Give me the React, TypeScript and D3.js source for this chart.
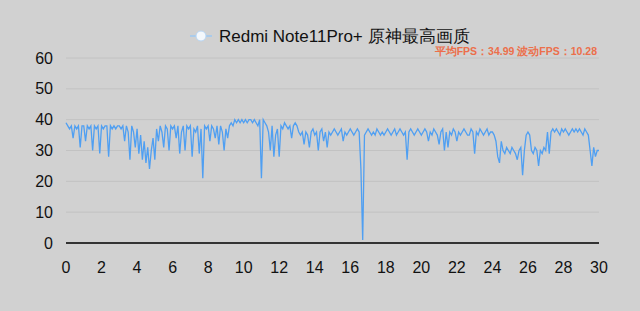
import React from "react";
import * as d3 from "d3";

const title = "Redmi Note11Pro+ 原神最高画质";
const statsText = "平均FPS：34.99 波动FPS：10.28";
const xTicks = [0, 2, 4, 6, 8, 10, 12, 14, 16, 18, 20, 22, 24, 26, 28, 30];
const yTicks = [0, 10, 20, 30, 40, 50, 60];
const step = 0.1; // minutes between samples
const fps = [
  39, 38, 37, 38, 34, 38, 37, 38, 31, 38,
  38, 33, 38, 37, 38, 30, 38, 37, 38, 29,
  38, 37, 38, 38, 28, 38, 37, 38, 37, 38,
  38, 37, 38, 33, 38, 36, 27, 38, 36, 31,
  37, 29, 35, 27, 33, 26, 31, 24, 30, 34,
  27, 37, 33, 38, 36, 31, 38, 37, 30, 38,
  37, 38, 34, 38, 29, 36, 38, 30, 38, 37,
  38, 28, 37, 36, 38, 29, 37, 21, 38, 37,
  38, 33, 38, 37, 34, 38, 32, 38, 36, 30,
  37, 34, 38, 39, 38, 40, 39, 40, 39, 40,
  39, 40, 39, 40, 40, 39, 40, 39, 38, 40,
  21, 40, 39, 38, 36, 30, 38, 28, 35, 37,
  28, 38, 37, 39, 38, 37, 38, 34, 38, 39,
  38, 36, 35, 36, 32, 36, 35, 31, 36, 37,
  35, 36, 30, 36, 37, 33, 36, 31, 36, 35,
  36, 37, 36, 35, 36, 37, 33, 36, 35, 36,
  37, 36, 35, 36, 37, 36, 24, 1, 35, 36,
  37, 36, 35, 36, 35, 37, 36, 35, 36, 35,
  36, 37, 36, 35, 36, 37, 35, 36, 37, 36,
  35, 36, 27, 36, 37, 36, 35, 36, 37, 36,
  35, 36, 37, 36, 33, 36, 35, 37, 36, 35,
  32, 36, 37, 30, 36, 31, 36, 35, 37, 36,
  33, 36, 35, 36, 37, 36, 35, 35, 37, 36,
  29, 36, 35, 37, 36, 35, 36, 37, 35, 36,
  36, 35, 33, 28, 26, 33, 30, 29, 31, 30,
  29, 31, 30, 29, 27, 30, 31, 22, 30, 35,
  36, 35, 30, 29, 31, 30, 25, 30, 29, 31,
  30, 36, 29, 36, 37, 36, 37, 36, 35, 37,
  36, 37, 36, 35, 36, 37, 36, 37, 36, 37,
  36, 35, 37, 36, 35, 30, 25, 31, 28, 30,
  30,
];

const W = 640;
const H = 311;
const font = "'Liberation Sans', Arial, Helvetica, sans-serif";

export default function App() {
  const x = d3.scaleLinear().domain([0, 30]).range([66, 599]);
  const y = d3.scaleLinear().domain([0, 60]).range([243, 58]);
  const line = d3
    .line<number>()
    .x((_, i) => x(i * step))
    .y((d) => y(d));

  return (
    <svg
      width={W}
      height={H}
      style={{ position: "fixed", left: 0, top: 0, background: "#d1d1d1" }}
    >
      <rect x={0} y={0} width={W} height={H} fill="#d1d1d1" />
      {yTicks.map((t) => (
        <g key={t}>
          {t > 0 && (
            <line x1={x(0)} x2={x(30)} y1={y(t)} y2={y(t)} stroke="#c2c2c2" strokeWidth={1} />
          )}
          <text
            x={53}
            y={y(t)}
            dy="0.35em"
            textAnchor="end"
            fontFamily={font}
            fontSize={16}
            fill="#111"
          >
            {t}
          </text>
        </g>
      ))}
      <path d={line(fps) || ""} fill="none" stroke="#4f9ff2" strokeWidth={1.3} />
      <line x1={x(0)} x2={x(30)} y1={y(0)} y2={y(0)} stroke="#333" strokeWidth={2} />
      {xTicks.map((t) => (
        <text
          key={t}
          x={x(t)}
          y={273}
          textAnchor="middle"
          fontFamily={font}
          fontSize={16}
          fill="#111"
        >
          {t}
        </text>
      ))}
      <g>
        <line x1={190} x2={212} y1={36} y2={36} stroke="#9cc8f2" strokeWidth={1.5} />
        <circle cx={201} cy={36} r={5} fill="#f4f8fc" stroke="#b8d6f4" strokeWidth={1} />
        <text x={219} y={42} fontFamily={font} fontSize={17} fill="#111">
          {title}
        </text>
      </g>
      <text
        x={597}
        y={55}
        textAnchor="end"
        fontFamily={font}
        fontSize={10.5}
        fontWeight="bold"
        fill="#ec6f4b"
      >
        {statsText}
      </text>
    </svg>
  );
}
